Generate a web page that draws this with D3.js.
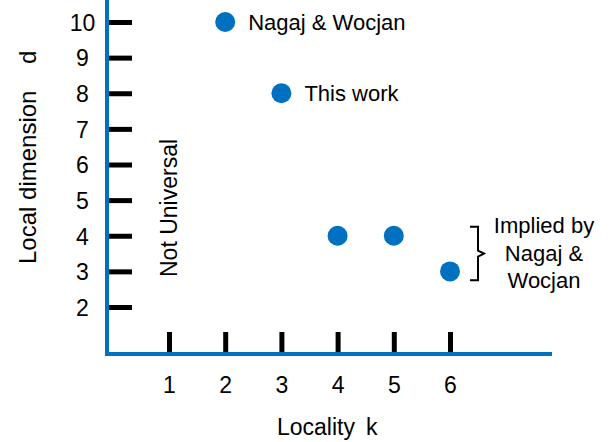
<!DOCTYPE html>
<html>
<head>
<meta charset="utf-8">
<script src="https://cdn.jsdelivr.net/npm/d3@7"></script>
<style>
  html, body { margin: 0; padding: 0; background: #fff; }
  svg { display: block; }
  text { font-family: "Liberation Sans", Arial, sans-serif; fill: #000; }
</style>
</head>
<body>
<svg id="chart" width="612" height="442"></svg>
<script>
// ---- data ----
const xTicks = [1, 2, 3, 4, 5, 6];
const yTicks = [2, 3, 4, 5, 6, 7, 8, 9, 10];
const pointK = [2, 3, 4, 5, 6];
const pointD = [10, 8, 4, 4, 3];
const pointLabels = ["Nagaj & Wocjan", "This work", "", "", ""];
const impliedLines = ["Implied by", "Nagaj &", "Wocjan"];
const bracketRange = [4.25, 2.75];

const blue = "#0070C0";
const svg = d3.select("#chart");

const x = d3.scaleLinear().domain([1, 6]).range([169, 450]);
const y = d3.scaleLinear().domain([2, 10]).range([307, 22]);

const axisX0 = 107, axisY0 = 354;

// y ticks
const gy = svg.append("g").attr("transform", `translate(${axisX0 + 2},0)`)
  .call(d3.axisLeft(y).tickValues(yTicks).tickSize(-23).tickFormat(d3.format("d")));
gy.select(".domain").remove();
gy.selectAll(".tick line").attr("stroke", "#000").attr("stroke-width", 5);
gy.selectAll(".tick text")
  .attr("x", -26.5).attr("dy", "0.36em")
  .attr("text-anchor", "middle")
  .style("font-size", "23px").style("font-family", "Liberation Sans, Arial, sans-serif")
  .attr("fill", "#000");

// x ticks
const gx = svg.append("g").attr("transform", `translate(0,${axisY0 - 2})`)
  .call(d3.axisBottom(x).tickValues(xTicks).tickSize(-20).tickFormat(d3.format("d")));
gx.select(".domain").remove();
gx.selectAll(".tick line").attr("stroke", "#000").attr("stroke-width", 5);
gx.selectAll(".tick text")
  .attr("y", 41).attr("dy", 0)
  .style("font-size", "23px").style("font-family", "Liberation Sans, Arial, sans-serif")
  .attr("fill", "#000");

// axes lines (blue)
svg.append("line").attr("x1", axisX0).attr("x2", axisX0).attr("y1", 0).attr("y2", axisY0 + 2)
  .attr("stroke", blue).attr("stroke-width", 4);
svg.append("line").attr("x1", axisX0 - 2).attr("x2", 552).attr("y1", axisY0).attr("y2", axisY0)
  .attr("stroke", blue).attr("stroke-width", 4);

// points
const pts = pointK.map((k, i) => ({ k, d: pointD[i], label: pointLabels[i] }));
svg.append("g").selectAll("circle").data(pts).join("circle")
  .attr("cx", d => x(d.k)).attr("cy", d => y(d.d)).attr("r", 10)
  .attr("fill", blue);

svg.append("g").selectAll("text").data(pts.filter(d => d.label)).join("text")
  .attr("x", d => x(d.k) + 23).attr("y", d => y(d.d) + 8)
  .style("font-size", "22px")
  .text(d => d.label);

// axis titles
svg.append("text").attr("transform", "translate(36,264) rotate(-90)")
  .style("font-size", "24px").text("Local dimension");
svg.append("text").attr("transform", "translate(36,64) rotate(-90)")
  .style("font-size", "24px").text("d");
svg.append("text").attr("x", 277).attr("y", 435).style("font-size", "23px").text("Locality");
svg.append("text").attr("x", 366).attr("y", 435).style("font-size", "23px").text("k");

// Not Universal
svg.append("text").attr("transform", "translate(177,208) rotate(-90)")
  .attr("text-anchor", "middle").style("font-size", "23px").text("Not Universal");

// bracket
const bt = y(bracketRange[0]), bb = y(bracketRange[1]), bm = (bt + bb) / 2;
const bx = 470, bxv = 478, btip = 484;
svg.append("path")
  .attr("d", `M${bx},${bt} H${bxv} V${bm - 3} L${btip},${bm} L${bxv},${bm + 3} V${bb} H${bx}`)
  .attr("fill", "none").attr("stroke", "#000").attr("stroke-width", 2);

svg.append("g").selectAll("text").data(impliedLines).join("text")
  .attr("x", 544).attr("y", (d, i) => 233 + i * 27.5)
  .attr("text-anchor", "middle").style("font-size", "22px")
  .text(d => d);
</script>
</body>
</html>
